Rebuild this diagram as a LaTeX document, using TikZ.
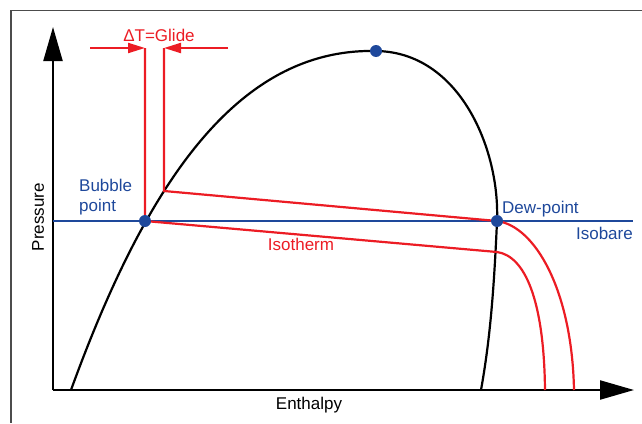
\documentclass[tikz,border=0pt]{standalone}
\usepackage{fontspec}
\setmainfont{Liberation Sans}
\usetikzlibrary{arrows.meta}

\definecolor{isoblue}{RGB}{30,72,155}
\definecolor{isored}{RGB}{236,28,36}

\tikzset{
    lbl/.style={font=\fontsize{17}{20}\selectfont, inner sep=0pt},
    axis/.style={line width=2.2pt, -{Triangle[length=34pt, width=19pt]}},
    dome/.style={line width=2.2pt, black},
    redline/.style={line width=2.2pt, isored},
    glide/.style={line width=2.2pt, isored, -{Triangle[length=17pt, width=10pt]}},
    statedot/.style={fill=isoblue},
}

\begin{document}
\begin{tikzpicture}[x=1pt, y=-1pt]
    \useasboundingbox (0,0) rectangle (642,423);

    % Frame
    \draw[gray!60!black, line width=1.5pt] (642,10.5) -- (11,10.5) -- (11,423);

    % Key points
    \coordinate (origin) at (53,390);
    \coordinate (bub) at (145,221);
    \coordinate (dew) at (497,221);
    \coordinate (crit) at (376,51);
    \coordinate (knee) at (164,191);
    \coordinate (wet) at (497,252);
    \coordinate (gl) at (145,48);
    \coordinate (gr) at (164,48);

    % Axes
    \draw[axis] (origin) -- (53,27);
    \draw[axis] (origin) -- (634,390);
    \node[lbl, rotate=90] (plabel) at (38,217) {Pressure};
    \node[lbl] (hlabel) at (309,405) {Enthalpy};

    % Isobar
    \draw[line width=2.2pt, isoblue] (53,221) -- (633,221);

    % Two-phase dome
    \draw[dome] (71,390) .. controls (148,178) and (240,48) .. (crit)
        .. controls (460,52) and (500,150) .. (dew)
        .. controls (494,290) and (490,340) .. (481,390);

    % Isotherms
    \draw[redline] (gl) -- (bub) -- (wet)
        .. controls (525,256) and (544,300) .. (545,390);
    \draw[redline] (gr) -- (knee) -- (dew)
        .. controls (535,226) and (572,290) .. (574,390);

    % Glide
    \draw[glide] (90,48) -- (gl);
    \draw[glide] (228,48) -- (gr);
    \node[lbl, text=isored] (glabel) at (159,35) {ΔT=Glide};

    % Points
    \fill[statedot] (bub) circle (6pt);
    \fill[statedot] (dew) circle (6pt);
    \fill[statedot] (crit) circle (6pt);

    % Labels
    \node[lbl, text=isoblue, align=left, anchor=west] (bublabel) at (79,197) {Bubble\\point};
    \node[lbl, text=isoblue, anchor=west] (dewlabel) at (502,209) {Dew-point};
    \node[lbl, text=isoblue, anchor=east] (isolabel) at (633,233) {Isobare};
    \node[lbl, text=isored] (thlabel) at (301,244) {Isotherm};

\end{tikzpicture}
\end{document}
